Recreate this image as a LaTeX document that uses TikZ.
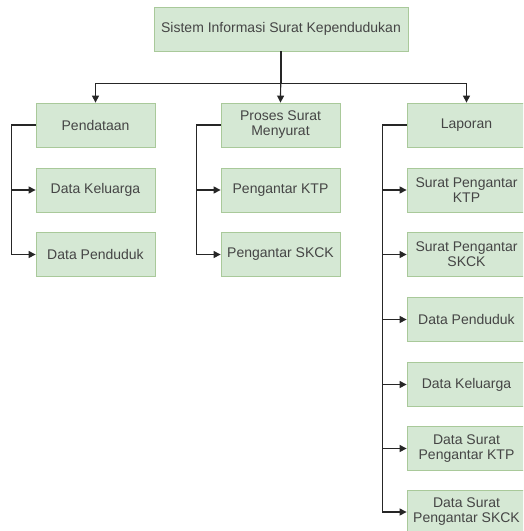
\documentclass[tikz,border=0pt]{standalone}
\usepackage{fontspec}
\setmainfont{Liberation Sans}
\usetikzlibrary{arrows.meta}
\definecolor{boxfill}{HTML}{D5E8D4}
\definecolor{boxline}{HTML}{A9C99A}
\definecolor{txt}{HTML}{454545}
\definecolor{wire}{HTML}{262626}
\begin{document}
\begin{tikzpicture}[x=1pt,y=1pt,
  box/.style={draw=boxline, line width=0.8pt, fill=boxfill, minimum width=119pt, minimum height=44pt,
    inner sep=2pt, align=center, text=txt, font=\fontsize{14}{15}\selectfont},
  arr/.style={draw=wire, line width=1.2pt, -{Triangle[length=7pt,width=7pt]}},
  ln/.style={draw=wire, line width=1.2pt}]
\clip (0,0) rectangle (523,-531);
\fill[white] (0,0) rectangle (523,-531);
% top
\node[box, minimum width=254pt] (top) at (281,-29) {Sistem Informasi Surat Kependudukan};
% column 1
\node[box] (pend) at (95.5,-125) {Pendataan};
\node[box] (dk) at (95.5,-190) {Data Keluarga};
\node[box] (dp) at (95.5,-254.5) {Data Penduduk};
% column 2
\node[box] (proses) at (280.5,-125) {Proses Surat\\Menyurat};
\node[box] (ktp) at (280.5,-190) {Pengantar KTP};
\node[box] (skck) at (280.5,-254.5) {Pengantar SKCK};
% column 3
\node[box] (lap) at (466.5,-125) {Laporan};
\node[box] (lktp) at (466.5,-190) {Surat Pengantar\\KTP};
\node[box] (lskck) at (466.5,-254.5) {Surat Pengantar\\SKCK};
\node[box] (ldp) at (466.5,-319.5) {Data Penduduk};
\node[box] (ldk) at (466.5,-384.5) {Data Keluarga};
\node[box] (ldsk) at (466.5,-448.5) {Data Surat\\Pengantar KTP};
\node[box] (ldss) at (466.5,-512) {Data Surat\\Pengantar SKCK};
% top connectors
\draw[arr] (top.south) -- (proses.north);
\draw[arr] (top.south) -- ++(0,-32) -| (pend.north);
\draw[arr] (top.south) -- ++(0,-32) -| (lap.north);
% column 1 tree
\draw[arr] (pend.west) -- ++(-24,0) |- (dk.west);
\draw[arr] (pend.west) -- ++(-24,0) |- (dp.west);
% column 2 tree
\draw[arr] (proses.west) -- ++(-24,0) |- (ktp.west);
\draw[arr] (proses.west) -- ++(-24,0) |- (skck.west);
% column 3 tree
\draw[arr] (lap.west) -- ++(-24,0) |- (lktp.west);
\draw[arr] (lap.west) -- ++(-24,0) |- (lskck.west);
\draw[arr] (lap.west) -- ++(-24,0) |- (ldp.west);
\draw[arr] (lap.west) -- ++(-24,0) |- (ldk.west);
\draw[arr] (lap.west) -- ++(-24,0) |- (ldsk.west);
\draw[arr] (lap.west) -- ++(-24,0) |- (ldss.west);
\end{tikzpicture}
\end{document}
